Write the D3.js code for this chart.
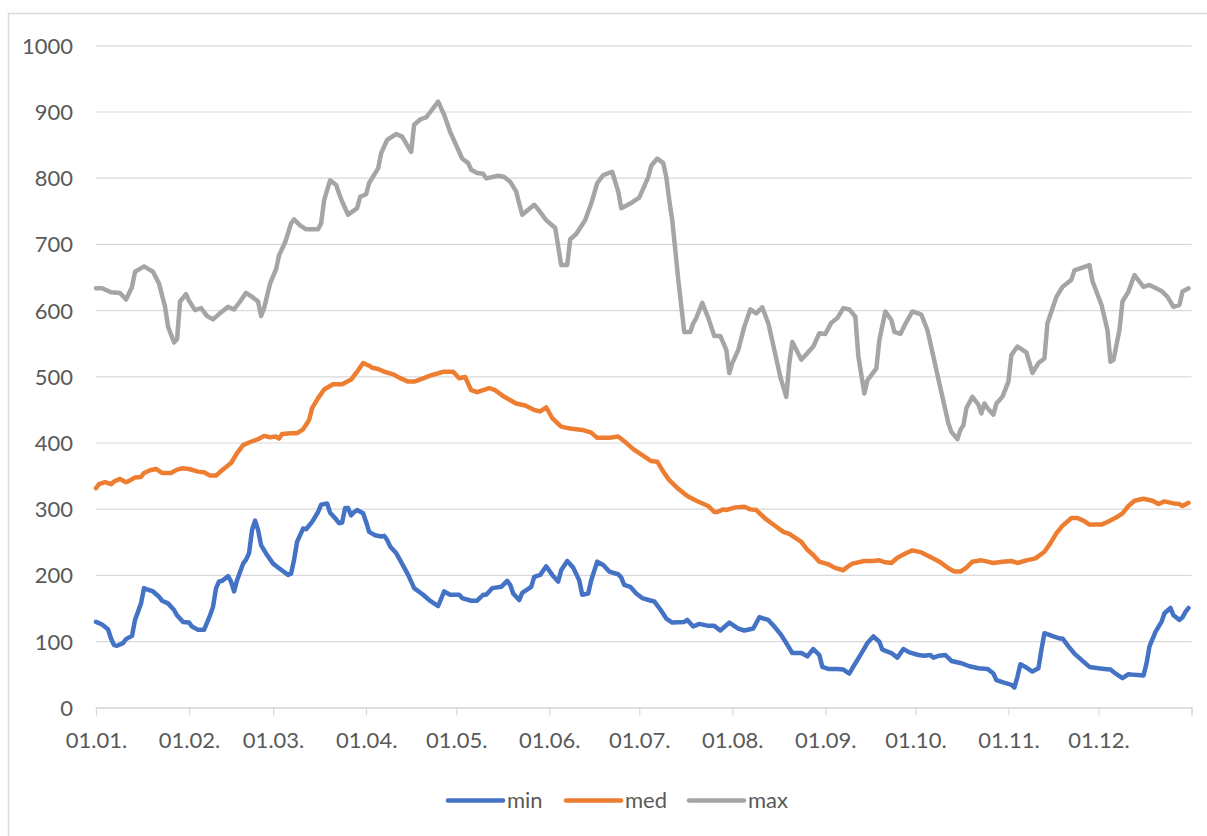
<!DOCTYPE html>
<html><head><meta charset="utf-8">
<script src="https://cdn.jsdelivr.net/npm/d3@7"></script>
<style>
body{margin:0;background:#fff}
svg text{font-family:Lato,"Open Sans",sans-serif;fill:#595959}
</style>
</head><body>
<svg id="chart" width="1207" height="836"></svg>
<script>
// ---- data (day index from 01.01., value) ----
const year = 2021;
const monthLabels = ["01.01.","01.02.","01.03.","01.04.","01.05.","01.06.","01.07.","01.08.","01.09.","01.10.","01.11.","01.12."];
const yTicks = [0,100,200,300,400,500,600,700,800,900,1000];
const seriesNames = ["min","med","max"];
const seriesColors = ["#4472C4","#ED7D31","#A5A5A5"];

const minDays = [0,2,4,5,6,7,9,10,12,13,15,16,17,19,21,22,24,26,27,29,31,32,34,36,38,39,40,41,42,44,45,46,47,49,50,51,52,53,54,55,57,59,61,64,65,66,67,69,70,72,74,75,77,78,80,81,82,83,84,85,86,87,89,90,91,93,95,96,97,98,100,101,104,106,109,111,114,116,118,121,122,125,127,129,130,132,135,137,138,139,141,142,145,146,148,150,152,154,155,157,159,161,162,164,165,167,169,171,174,175,176,178,180,182,185,186,188,190,192,196,197,199,201,204,206,208,211,214,216,219,221,224,226,228,230,232,235,237,239,241,242,244,247,249,251,252,254,256,257,259,261,262,265,267,269,271,274,276,278,279,281,283,285,288,291,294,297,299,300,302,305,306,307,308,310,312,314,315,316,319,321,322,324,326,329,331,334,336,338,340,342,344,346,349,350,351,353,355,356,358,359,361,362,363,364];
const minValues = [129,125,118,104,94,93,97,103,108,132,157,180,178,175,167,161,157,147,139,129,128,122,117,117,139,152,180,190,191,198,190,175,192,217,223,233,268,282,268,245,230,217,210,200,202,223,250,270,269,280,295,306,308,294,284,278,279,301,301,290,295,298,293,280,265,260,258,259,253,243,233,225,200,180,170,162,153,175,170,170,165,161,161,170,170,180,182,191,185,172,162,173,182,197,200,213,200,190,207,221,211,192,170,172,192,220,215,205,201,196,185,182,172,165,161,160,148,134,128,129,132,122,126,123,123,116,128,119,116,119,136,132,122,111,97,82,82,77,88,79,61,58,58,57,51,59,74,89,97,107,99,87,82,75,88,83,79,78,79,75,78,79,70,67,62,59,58,51,41,38,34,30,46,65,60,54,59,87,112,107,104,104,92,81,69,61,59,58,57,50,44,50,49,48,66,92,114,129,142,150,139,132,136,144,150];

const medDays = [0,1,3,5,6,8,10,11,13,15,16,18,20,22,25,27,29,31,34,36,38,40,42,45,47,49,51,54,56,58,60,61,62,65,67,69,71,72,74,76,79,82,85,87,89,91,92,94,96,99,101,104,106,109,112,116,119,121,123,125,127,131,133,136,140,143,146,148,150,152,155,158,162,165,167,171,174,176,179,182,185,187,189,191,194,197,200,204,206,207,209,210,213,216,218,220,223,226,229,231,235,237,239,241,244,246,249,250,252,256,259,261,263,265,267,270,272,275,278,281,284,286,288,290,292,295,297,299,302,305,307,310,313,316,318,320,322,325,327,329,331,335,337,340,342,344,346,349,352,354,356,359,361,362,364];
const medValues = [331,337,340,337,341,345,340,342,347,348,354,358,360,354,354,359,361,360,356,355,350,350,358,369,384,396,400,405,410,408,409,406,413,414,414,420,434,452,467,480,488,488,495,507,520,516,513,511,507,503,498,492,492,497,502,507,507,497,499,479,476,482,479,469,459,456,449,447,453,437,424,421,419,415,407,407,409,402,390,381,372,371,356,343,330,319,312,304,295,295,299,298,302,303,299,298,285,275,265,262,250,238,230,220,216,211,207,211,217,221,221,222,219,218,226,233,237,234,227,220,210,205,205,211,220,222,220,218,220,221,218,222,225,235,248,263,274,286,286,282,276,276,280,287,293,304,312,315,312,307,311,308,307,304,309];

const maxDays = [0,2,5,8,10,12,13,16,19,21,23,24,26,27,28,30,31,33,35,37,39,41,44,46,48,50,52,54,55,56,58,60,61,63,65,66,68,70,74,75,76,78,80,81,82,84,87,88,90,91,94,95,97,100,102,105,106,108,110,111,114,116,118,120,122,124,125,127,129,130,134,136,138,140,141,142,146,147,150,153,155,157,158,160,163,165,167,169,172,174,175,178,181,184,185,187,189,190,191,192,194,196,198,199,200,202,204,206,208,210,211,212,214,216,218,220,222,224,226,228,230,231,232,235,237,239,241,243,245,247,249,251,253,254,256,257,260,261,263,265,266,268,270,272,275,277,279,281,284,285,287,288,289,290,292,294,295,296,297,299,300,302,304,305,307,310,312,314,316,317,320,322,325,326,331,332,335,337,338,339,341,342,344,346,349,351,355,357,359,361,362,364];
const maxValues = [633,633,627,626,616,635,658,666,658,640,605,575,551,556,613,624,614,600,603,591,586,594,605,601,613,626,620,613,591,603,640,662,683,702,731,737,728,722,722,731,766,796,789,776,764,744,754,771,775,792,814,837,857,866,862,839,880,888,891,897,915,895,869,849,829,822,812,807,806,799,803,801,794,779,761,744,759,754,736,724,668,668,707,715,736,761,792,804,809,779,754,761,770,801,818,829,822,801,766,736,646,567,567,580,588,611,588,561,561,540,505,520,540,575,601,595,604,580,540,499,469,520,552,525,535,545,565,564,581,588,603,601,590,530,474,494,512,555,598,585,567,564,582,598,593,570,530,489,429,416,405,419,426,452,469,457,444,459,452,442,459,469,492,532,545,536,505,520,527,580,620,635,646,660,668,644,608,570,522,525,570,613,628,653,635,638,629,620,605,608,628,633];

// ---- chart ----
const svg = d3.select("#chart");
const x0 = 96, x1 = 1191.5, yTop = 45.3, yBot = 707.3;
const start = new Date(year,0,1);
const dayDate = d => d3.timeDay.offset(start, d);
const x = d3.scaleTime().domain([start, new Date(year+1,0,1)]).range([x0, x1]);
const y = d3.scaleLinear().domain([0,1000]).range([yBot, yTop]);

// outer border
svg.append("rect").attr("x",8.5).attr("y",13.5).attr("width",1210).attr("height",840)
  .attr("fill","none").attr("stroke","#d9d9d9").attr("stroke-width",1.5);

// y axis + grid
const gy = svg.append("g").attr("transform",`translate(${x0},0)`)
  .call(d3.axisLeft(y).tickValues(yTicks).tickSize(-(x1-x0)).tickPadding(23).tickFormat(d3.format("d")));
gy.select(".domain").remove();
gy.selectAll(".tick line").attr("stroke","#d9d9d9").attr("stroke-width",1.2);
gy.selectAll(".tick text").attr("font-size",22).attr("dy","0.36em");

// x axis
const monthDates = monthLabels.map((_,i)=>new Date(year,i,1));
const tickDates = monthDates.concat([new Date(year+1,0,1)]);
const gx = svg.append("g").attr("transform",`translate(0,${yBot})`)
  .call(d3.axisBottom(x).tickValues(tickDates).tickSize(8).tickFormat((d,i)=> i<monthLabels.length ? monthLabels[i] : ""));
gx.select(".domain").attr("stroke","#d9d9d9").attr("stroke-width",1.2);
gx.selectAll(".tick line").attr("stroke","#d9d9d9").attr("stroke-width",1.2);
gx.selectAll(".tick text").attr("font-size",22).attr("dy",null).attr("y",41);

// lines
const series = [
  {name:seriesNames[0], color:seriesColors[0], days:minDays, values:minValues},
  {name:seriesNames[1], color:seriesColors[1], days:medDays, values:medValues},
  {name:seriesNames[2], color:seriesColors[2], days:maxDays, values:maxValues}
];
const line = d3.line().x(d=>x(dayDate(d[0]))).y(d=>y(d[1]));
series.forEach(s=>{
  svg.append("path").datum(s.days.map((d,i)=>[d,s.values[i]]))
    .attr("d",line).attr("fill","none").attr("stroke",s.color)
    .attr("stroke-width",4.5).attr("stroke-linejoin","round").attr("stroke-linecap","round");
});

// legend
const legX = [448, 566, 689];
const lg = svg.append("g");
series.forEach((s,i)=>{
  lg.append("line").attr("x1",legX[i]).attr("x2",legX[i]+55).attr("y1",800.5).attr("y2",800.5)
    .attr("stroke",s.color).attr("stroke-width",4.5).attr("stroke-linecap","round");
  lg.append("text").attr("x",legX[i]+59).attr("y",808).attr("font-size",22).text(s.name);
});
</script>
</body></html>
